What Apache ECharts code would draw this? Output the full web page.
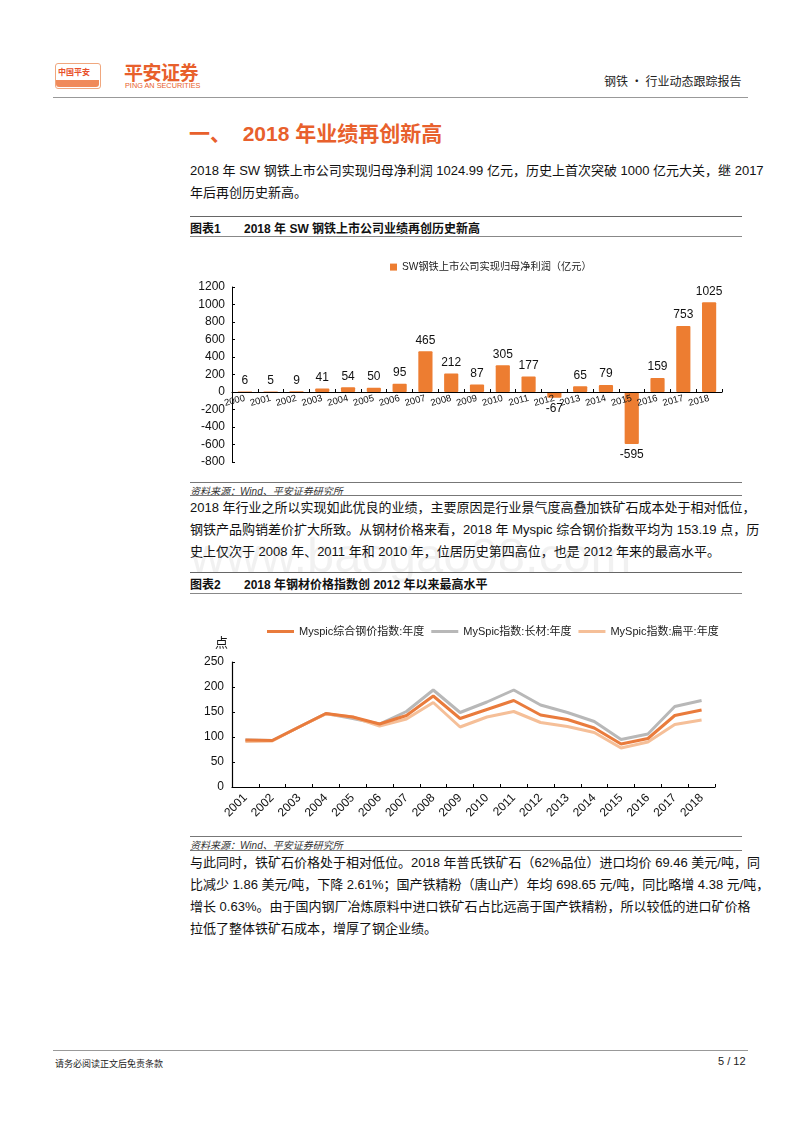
<!DOCTYPE html>
<html>
<head>
<meta charset="utf-8">
<script src="https://cdn.jsdelivr.net/npm/echarts@6/dist/echarts.min.js"></script>
<style>
  html, body { margin:0; padding:0; background:#fff; }
  body { width:800px; height:1132px; position:relative; overflow:hidden;
         font-family:"Liberation Sans","Noto Sans CJK SC",sans-serif; color:#111; }
  .abs { position:absolute; white-space:nowrap; }
  .line { position:absolute; height:0; }
  .para { position:absolute; left:190px; width:551px; font-size:13px; line-height:22px; }
  .para div { white-space:nowrap; text-align:justify; text-align-last:justify; height:22px; }
  .para div.last { text-align-last:left; }
  .ctitle { position:absolute; left:190px; font-size:12px; font-weight:bold; }
  .src { position:absolute; left:190px; font-size:10px; font-style:italic; color:#333; }
</style>
</head>
<body>
<script>
// ---- Chart 1 data ----
var barYears = ['2000','2001','2002','2003','2004','2005','2006','2007','2008','2009','2010','2011','2012','2013','2014','2015','2016','2017','2018'];
var barProfit = [6, 5, 9, 41, 54, 50, 95, 465, 212, 87, 305, 177, -67, 65, 79, -595, 159, 753, 1025];
var barSeriesName = 'SW钢铁上市公司实现归母净利润（亿元）';
var barYTicks = [-800, -600, -400, -200, 0, 200, 400, 600, 800, 1000, 1200];

// ---- Chart 2 data ----
var lineYears = ['2001','2002','2003','2004','2005','2006','2007','2008','2009','2010','2011','2012','2013','2014','2015','2016','2017','2018'];
var composite = [94, 93, 120, 147, 140, 126, 143, 182, 137, 155, 173, 144, 135, 118, 86, 97, 143, 154];
var longSteel = [94, 93, 120, 147, 137, 126, 151, 194, 149, 170, 194, 164, 149, 131, 95, 106, 161, 173];
var flatSteel = [91, 92, 120, 146, 140, 122, 136, 169, 120, 140, 151, 129, 121, 109, 78, 90, 125, 134];
var lineNames = ['Myspic综合钢价指数:年度', 'MySpic指数:长材:年度', 'MySpic指数:扁平:年度'];
var lineYTicks = [0, 50, 100, 150, 200, 250];
</script>

<!-- Header -->
<div class="abs" style="left:55px;top:63px;width:44px;height:24px;border:1px solid #F0A77E;border-radius:3px;background:#fff;"></div>
<div class="abs" style="left:58px;top:66px;font-size:8px;font-weight:bold;color:#E8502A;font-family:'Noto Sans CJK SC';">中国平安</div>
<div class="abs" style="left:56px;top:80px;width:43px;height:7px;background:#F08A5A;border-radius:0 0 3px 3px;"></div>
<div class="abs" style="left:124px;top:58px;font-size:19px;font-weight:bold;color:#E8602C;font-family:'Noto Sans CJK SC';letter-spacing:-0.5px;">平安证券</div>
<div class="abs" style="left:125px;top:81px;font-size:7.3px;color:#E8602C;">PING AN SECURITIES</div>
<div class="abs" style="left:604px;top:72px;font-size:12px;color:#222;font-family:'Noto Sans CJK SC';">钢铁 · 行业动态跟踪报告</div>
<div class="line" style="left:53px;top:97px;width:695px;border-top:1px solid #999;"></div>

<!-- Section title -->
<div class="abs" style="left:189px;top:117px;font-size:21px;font-weight:bold;color:#E8602C;">一、&nbsp;&nbsp;2018 年业绩再创新高</div>

<div class="para" style="top:160px;">
  <div>2018 年 SW 钢铁上市公司实现归母净利润 1024.99 亿元，历史上首次突破 1000 亿元大关，继 2017</div>
  <div class="last">年后再创历史新高。</div>
</div>

<div class="line" style="left:190px;top:216px;width:552px;border-top:1.5px solid #666;"></div>
<div class="ctitle" style="top:219px;">图表1&nbsp;&nbsp;&nbsp;&nbsp;&nbsp;&nbsp;&nbsp;2018 年 SW 钢铁上市公司业绩再创历史新高</div>
<div class="line" style="left:190px;top:236px;width:552px;border-top:1.5px solid #888;"></div>

<div id="c1" class="abs" style="left:185px;top:245px;width:560px;height:236px;"></div>

<div class="line" style="left:190px;top:482px;width:552px;border-top:1.5px solid #777;"></div>
<div class="src" style="top:483px;">资料来源：Wind、平安证券研究所</div>
<div class="line" style="left:190px;top:495px;width:552px;border-top:1.5px solid #777;"></div>

<div class="abs" style="left:190px;top:527px;font-size:49px;color:rgba(0,0,0,0.055);">www.baogao08.com</div>

<div class="para" style="top:497px;">
  <div>2018 年行业之所以实现如此优良的业绩，主要原因是行业景气度高叠加铁矿石成本处于相对低位，</div>
  <div>钢铁产品购销差价扩大所致。从钢材价格来看，2018 年 Myspic 综合钢价指数平均为 153.19 点，历</div>
  <div class="last">史上仅次于 2008 年、2011 年和 2010 年，位居历史第四高位，也是 2012 年来的最高水平。</div>
</div>

<div class="line" style="left:190px;top:572px;width:552px;border-top:1.5px solid #666;"></div>
<div class="ctitle" style="top:575px;">图表2&nbsp;&nbsp;&nbsp;&nbsp;&nbsp;&nbsp;&nbsp;2018 年钢材价格指数创 2012 年以来最高水平</div>
<div class="line" style="left:190px;top:593px;width:552px;border-top:1.5px solid #888;"></div>

<div id="c2" class="abs" style="left:185px;top:605px;width:560px;height:230px;"></div>

<div class="line" style="left:190px;top:836px;width:552px;border-top:1.5px solid #777;"></div>
<div class="src" style="top:837px;">资料来源：Wind、平安证券研究所</div>
<div class="line" style="left:190px;top:850px;width:552px;border-top:1.5px solid #777;"></div>

<div class="para" style="top:852px;">
  <div>与此同时，铁矿石价格处于相对低位。2018 年普氏铁矿石（62%品位）进口均价 69.46 美元/吨，同</div>
  <div>比减少 1.86 美元/吨，下降 2.61%；国产铁精粉（唐山产）年均 698.65 元/吨，同比略增 4.38 元/吨，</div>
  <div>增长 0.63%。由于国内钢厂冶炼原料中进口铁矿石占比远高于国产铁精粉，所以较低的进口矿价格</div>
  <div class="last">拉低了整体铁矿石成本，增厚了钢企业绩。</div>
</div>

<!-- Footer -->
<div class="line" style="left:53px;top:1050px;width:695px;border-top:1px solid #999;"></div>
<div class="abs" style="left:55px;top:1057px;font-size:9px;color:#222;font-family:'Noto Sans CJK SC';">请务必阅读正文后免责条款</div>
<div class="abs" style="left:718px;top:1055px;font-size:11px;color:#222;">5 / 12</div>

<script>
var FONT = '"Liberation Sans","Noto Sans CJK SC",sans-serif';
var ORANGE = '#ED7D31';
function plain(v){ return String(v); }

// Chart 1
var c1 = echarts.init(document.getElementById('c1'), null, {renderer:'canvas'});
var barData = barProfit.map(function(v){
  return v < 0 ? {value: v, label: {position: 'bottom'}} : {value: v};
});
var GRID1 = {left: 47, right: 23, top: 42, bottom: 19};
c1.setOption({
  animation: false,
  textStyle: {fontFamily: FONT},
  legend: {
    show: true, left: 200, top: 12, icon: 'rect', itemWidth: 7, itemHeight: 7, itemGap: 4,
    textStyle: {fontSize: 10.2, color: '#222', fontFamily: FONT},
    data: [barSeriesName]
  },
  grid: {left: GRID1.left, right: GRID1.right, top: GRID1.top, bottom: GRID1.bottom, containLabel: false, outerBoundsMode: 'none'},
  xAxis: {
    type: 'category', data: barYears, position: 'bottom', offset: 0, z: 5,
    axisLine: {show: true, onZero: false, lineStyle: {color: '#000', width: 1}},
    axisTick: {show: true, inside: true, length: 3, lineStyle: {color: '#000'}},
    axisLabel: {rotate: 15, fontSize: 9.5, color: '#111', margin: 6, interval: 0, fontFamily: FONT},
    splitLine: {show: false}
  },
  yAxis: {
    type: 'value', min: barYTicks[0], max: barYTicks[barYTicks.length-1], interval: 200,
    axisLine: {show: true, lineStyle: {color: '#000', width: 1}},
    axisTick: {show: true, inside: true, length: 3, lineStyle: {color: '#000'}},
    axisLabel: {fontSize: 12, color: '#111', margin: 7, fontFamily: FONT, formatter: plain},
    splitLine: {show: false}
  },
  series: [{
    name: barSeriesName, type: 'bar', data: barData, barWidth: '55%',
    itemStyle: {color: ORANGE, borderRadius: 1},
    label: {show: true, position: 'top', fontSize: 12, color: '#111', distance: 5, fontFamily: FONT}
  }]
});
// move the category axis up to the zero line (layout only)
var zeroY = c1.convertToPixel({yAxisIndex: 0}, 0);
var bottomY = c1.getHeight() - GRID1.bottom;
c1.setOption({xAxis: {offset: zeroY - bottomY}});

// Chart 2
var c2 = echarts.init(document.getElementById('c2'), null, {renderer:'canvas'});
var lineColors = ['#E97B3C', '#B8B8B8', '#F5BF98'];
var lineData = [composite, longSteel, flatSteel];
c2.setOption({
  animation: false,
  textStyle: {fontFamily: FONT},
  legend: {
    show: true, left: 77, top: 16, icon: 'rect', itemWidth: 27, itemHeight: 3, itemGap: 7,
    textStyle: {fontSize: 11, color: '#222', fontFamily: FONT},
    data: lineNames
  },
  grid: {left: 47, right: 30, top: 57, bottom: 48, containLabel: false, outerBoundsMode: 'none'},
  xAxis: {
    type: 'category', data: lineYears, boundaryGap: true,
    axisLine: {show: true, lineStyle: {color: '#000', width: 1.2}},
    axisTick: {show: true, inside: true, length: 3, lineStyle: {color: '#000'}},
    axisLabel: {rotate: 45, fontSize: 12, color: '#111', margin: 9, interval: 0, fontFamily: FONT},
    splitLine: {show: false}
  },
  yAxis: {
    type: 'value', min: lineYTicks[0], max: lineYTicks[lineYTicks.length-1], interval: 50,
    name: '点', nameLocation: 'end', nameGap: 12,
    nameTextStyle: {fontSize: 13, color: '#111', align: 'right', padding: [0, 4, 0, 0], fontFamily: FONT},
    axisLine: {show: true, lineStyle: {color: '#000', width: 1.2}},
    axisTick: {show: true, inside: true, length: 3, lineStyle: {color: '#000'}},
    axisLabel: {fontSize: 12, color: '#111', margin: 8, fontFamily: FONT, formatter: plain},
    splitLine: {show: false}
  },
  series: lineNames.map(function(n, i){
    return {
      name: n, type: 'line', data: lineData[i], symbol: 'none', smooth: false,
      z: [3, 1, 2][i],
      itemStyle: {color: lineColors[i]},
      lineStyle: {color: lineColors[i], width: 3}
    };
  })
});
</script>
</body>
</html>
